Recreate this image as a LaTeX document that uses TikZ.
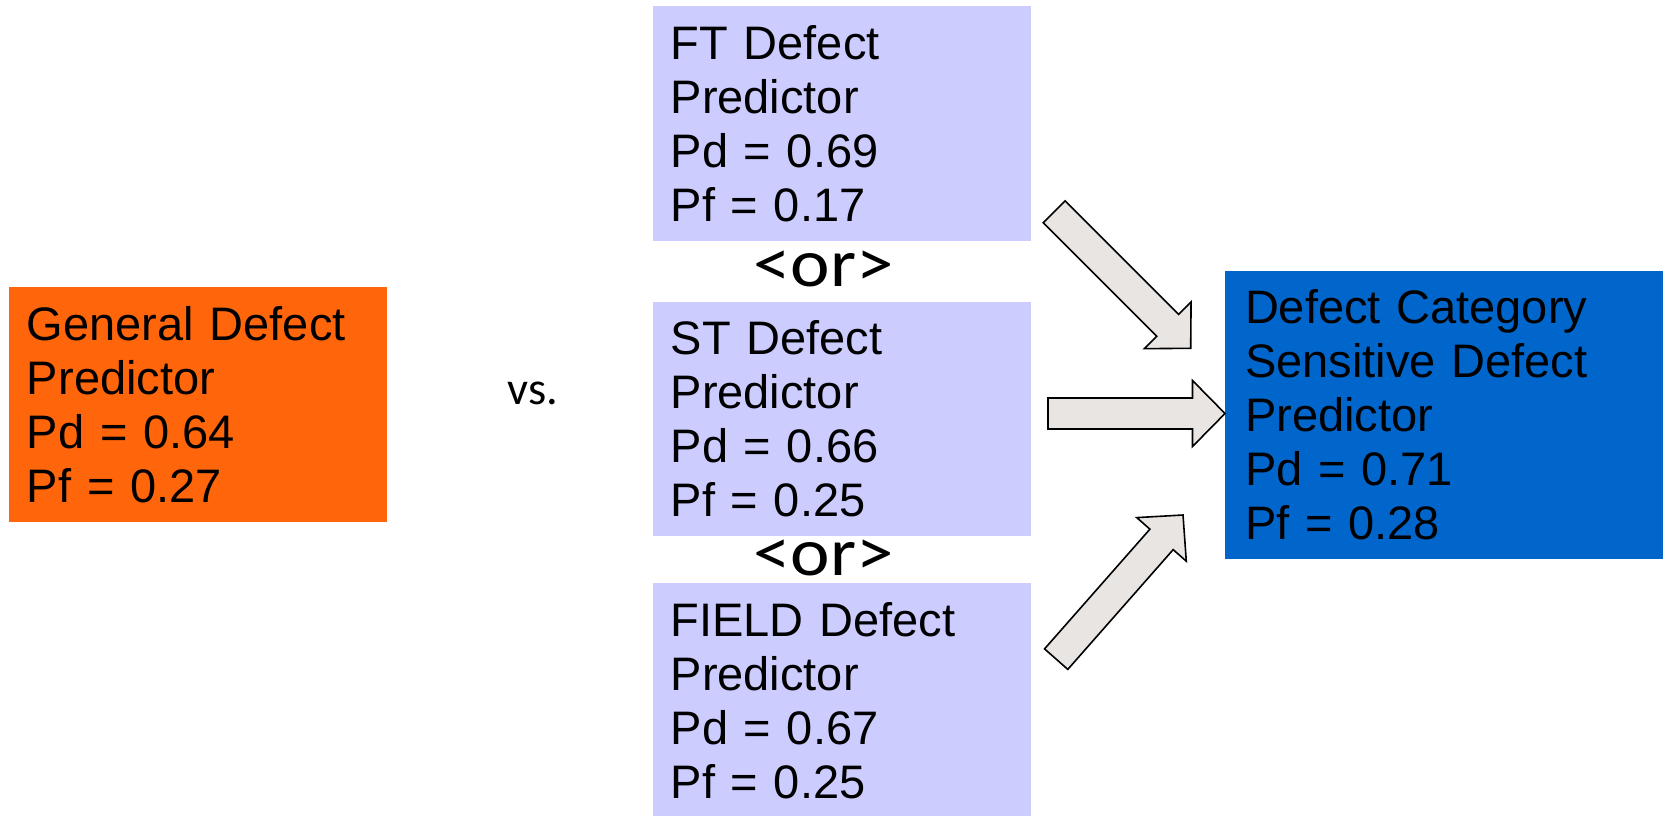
\documentclass[tikz,border=0pt]{standalone}
\usepackage{fontspec}
\setmainfont{Liberation Sans}
\newfontfamily\carlito{Carlito}
\newfontfamily\orfont[FakeStretch=1.1]{Carlito}
\definecolor{generalfill}{HTML}{FF650A}
\definecolor{variantfill}{HTML}{CCCCFF}
\definecolor{sensitivefill}{HTML}{0066CC}
\definecolor{arrowfill}{HTML}{E9E5E2}
\begin{document}
\begin{tikzpicture}[x=1pt,y=-1pt,
  box/.style={anchor=north west, inner xsep=18pt, inner ysep=0pt, outer sep=0pt,
    align=left, text=black, font=\fontsize{47}{54}\selectfont},
  orword/.style={anchor=base, inner sep=0pt, font=\orfont\fontsize{68}{78}\selectfont},
  arrowstyle/.style={fill=arrowfill, draw=black, line width=1.6pt, line join=miter},
  pics/blockarrow/.style={code={
    \draw[arrowstyle] (0,0) -- (-32.5,-33) -- (-32.5,-15.5) -- (-#1,-15.5)
      -- (-#1,15.5) -- (-32.5,15.5) -- (-32.5,33) -- cycle;}}]
\useasboundingbox (0,0) rectangle (1669,815);
\fill[white] (0,0) rectangle (1669,815);

% predictor boxes
\node[box, fill=generalfill, text width=342pt, minimum height=235pt]
  (general) at (9,286.7) {General Defect\\Predictor\\Pd = 0.64\\Pf = 0.27};
\node[box, fill=variantfill, text width=342pt, minimum height=234.7pt]
  (ft) at (652.7,6) {FT Defect\\Predictor\\Pd = 0.69\\Pf = 0.17};
\node[box, fill=variantfill, text width=342pt, minimum height=234.3pt]
  (st) at (652.7,301.7) {ST Defect\\Predictor\\Pd = 0.66\\Pf = 0.25};
\node[box, fill=variantfill, text width=342pt, minimum height=234.3pt]
  (field) at (652.7,583.3) {FIELD Defect\\Predictor\\Pd = 0.67\\Pf = 0.25};
\node[box, fill=sensitivefill, inner xsep=20pt, text width=398.3pt, minimum height=288.6pt]
  (dcs) at (1225,270.7) {Defect Category\\Sensitive Defect\\Predictor\\Pd = 0.71\\Pf = 0.28};

% separating words
\node[anchor=base west, inner sep=0pt, font=\carlito\fontsize{46.5}{56}\selectfont]
  (vs) at (507.6,404.3) {vs.};
\node[orword] (or1) at (823.5,286.5) {<or>};
\node[orword] (or2) at (823.5,575) {<or>};

% block arrows into the category sensitive predictor
\pic[rotate=-45] at (1190.7,348.3) {blockarrow=193};
\pic at (1225,413.5) {blockarrow=177};
\pic[rotate=48.65] at (1183,515) {blockarrow=192};
\end{tikzpicture}
\end{document}
